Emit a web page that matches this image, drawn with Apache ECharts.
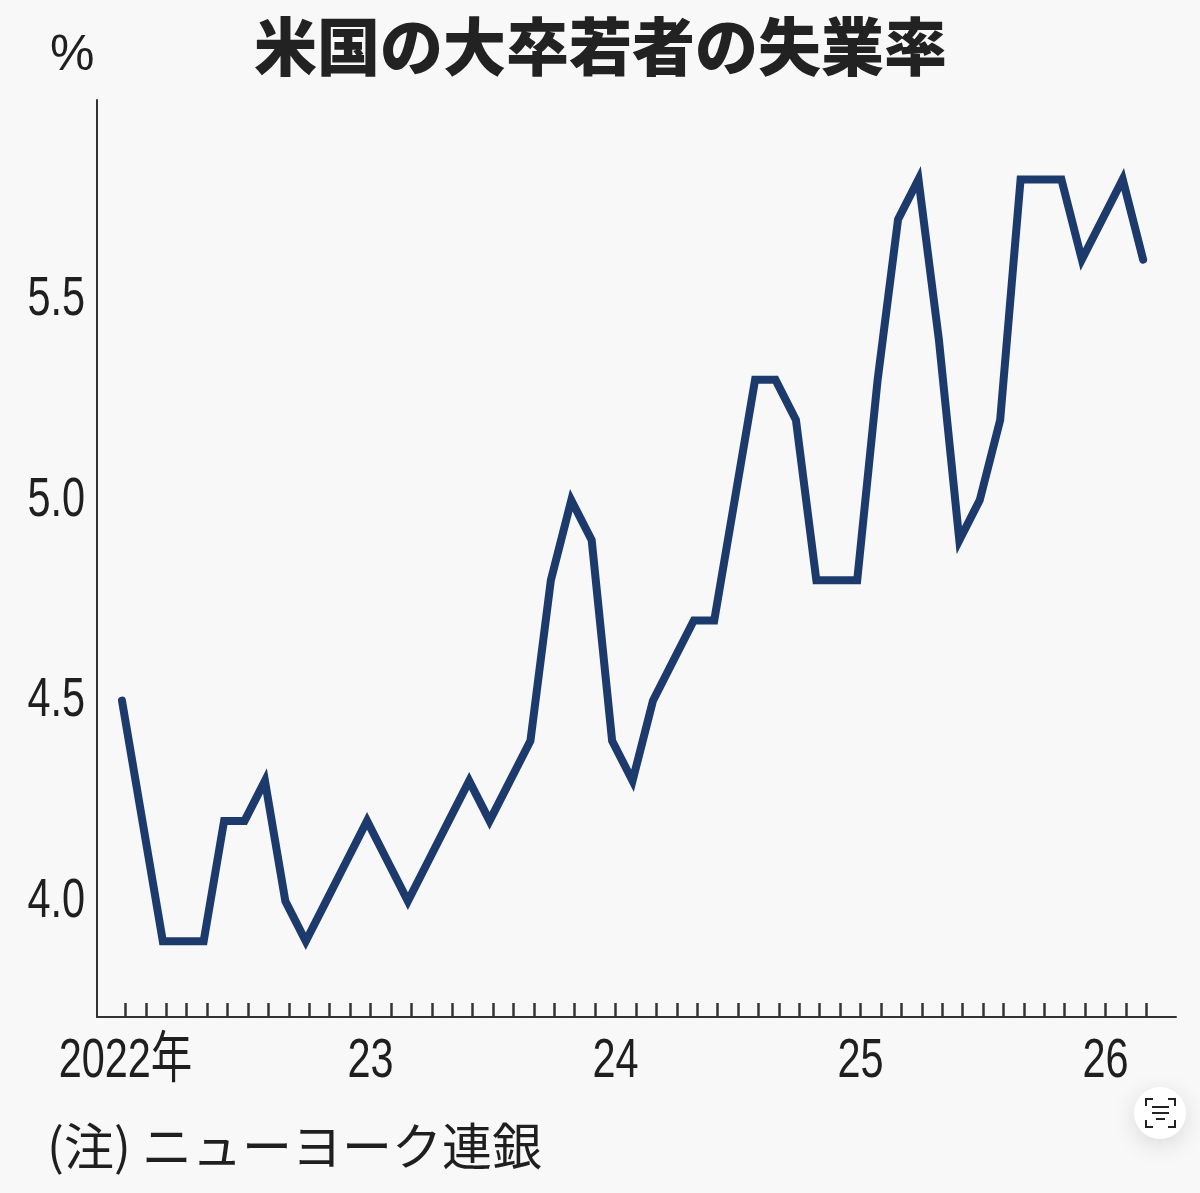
<!DOCTYPE html>
<html><head><meta charset="utf-8">
<style>html,body{margin:0;padding:0;background:#f8f8f8}#c{width:1200px;height:1193px}</style>
<script src="https://cdn.jsdelivr.net/npm/echarts@6/dist/echarts.min.js"></script>
</head><body><div id="c"></div>
<script>
const titleText = '米国の大卒若者の失業率';
const unitText = '%';
const noteText = '(注) ニューヨーク連銀';
const yTicks = [4.0, 4.5, 5.0, 5.5];
const yearTicks = {0:'2022年', 12:'23', 24:'24', 36:'25', 48:'26'};
const rates = [4.5,4.2,3.9,3.9,3.9,4.2,4.2,4.3,4.0,3.9,4.0,4.1,
 4.2,4.1,4.0,4.1,4.2,4.3,4.2,4.3,4.4,4.8,5.0,4.9,
 4.4,4.3,4.5,4.6,4.7,4.7,5.0,5.3,5.3,5.2,4.8,4.8,
 4.8,5.3,5.7,5.8,5.4,4.9,5.0,5.2,5.8,5.8,5.8,5.6,
 5.7,5.8,5.6];
const monthIdx = rates.map((_, i) => i);
const NARROW = '"Liberation Sans","Noto Sans CJK JP",sans-serif';
const INK = '#1f1f1f';
const corner = pts => ({type:'polyline', shape:{points:pts}, style:{fill:'none', stroke:'#222', lineWidth:2}});
const chart = echarts.init(document.getElementById('c'), null, {renderer:'canvas'});
chart.setOption({
  animation:false,
  backgroundColor:'#f8f8f8',
  grid:{left:97, right:24, top:100, bottom:176},
  title:{text:titleText, left:254, top:15, padding:0,
    textStyle:{fontFamily:'"Noto Sans CJK JP"', fontWeight:900, fontSize:63, color:'#222'}},
  xAxis:[
    {type:'value', min:-1.395, max:51.45, splitLine:{show:false},
      axisLine:{show:true, onZero:false, lineStyle:{color:'#333', width:2}},
      axisTick:{show:true, inside:true, length:14, customValues:monthIdx, lineStyle:{color:'#333', width:2.5}},
      axisLabel:{show:true, customValues:Object.keys(yearTicks).map(Number), margin:17,
        formatter:v=>yearTicks[v]||'', fontFamily:NARROW, fontSize:56, color:INK,
        hideOverlap:false, showMinLabel:true, showMaxLabel:true}},
    {type:'value', min:-1.223, max:51.61, show:false}
  ],
  yAxis:{type:'value', min:3.711, max:5.998, splitLine:{show:false},
    axisLine:{show:true, onZero:false, lineStyle:{color:'#333', width:2}},
    axisTick:{show:false},
    axisLabel:{customValues:yTicks, margin:12, formatter:v=>v.toFixed(1),
      fontFamily:NARROW, fontSize:56, color:INK}},
  series:[{type:'line', xAxisIndex:1, data:rates.map((v,i)=>[monthIdx[i],v]), showSymbol:false, symbol:'none',
    lineStyle:{color:'#1c3a6c', width:8, join:'miter', cap:'round'}, silent:true}],
  graphic:[
    {type:'text', left:50, top:31, style:{text:unitText, fontFamily:NARROW, fontSize:50, fill:INK}},
    {type:'text', x:47, y:1146, style:{text:noteText, fontFamily:'"Noto Sans CJK JP"', fontSize:50, fill:INK, verticalAlign:'middle'}},
    {type:'circle', shape:{cx:1160, cy:1113, r:26}, style:{fill:'#fff', shadowBlur:24, shadowColor:'rgba(0,0,0,0.12)', shadowOffsetY:6}},
    corner([[1146,1106],[1146,1099],[1153,1099]]),
    corner([[1168,1099],[1175,1099],[1175,1106]]),
    corner([[1146,1120],[1146,1127],[1153,1127]]),
    corner([[1168,1127],[1175,1127],[1175,1120]]),
    {type:'line', shape:{x1:1152, y1:1107, x2:1169, y2:1107}, style:{stroke:'#222', lineWidth:2}},
    {type:'line', shape:{x1:1152, y1:1113, x2:1169, y2:1113}, style:{stroke:'#222', lineWidth:2}},
    {type:'line', shape:{x1:1156, y1:1119, x2:1165, y2:1119}, style:{stroke:'#222', lineWidth:2}}
  ]
});
// The reference uses a condensed numeral face: squeeze the axis labels horizontally about their anchors.
const labelTexts = new Set([...Object.values(yearTicks), ...yTicks.map(v=>v.toFixed(1))]);
const zr = chart.getZr();
const seen = new Set();
zr.storage.getDisplayList(true).forEach(el => {
  const t = el.parent && el.parent.style && el.parent.style.text;
  const txt = (el.style && el.style.text);
  const host = el.parent && labelTexts.has(String(t)) ? el.parent : (labelTexts.has(String(txt)) ? el : null);
  if (host && !seen.has(host)) { seen.add(host); host.scaleX = 0.74; host.markRedraw && host.markRedraw(); }
});
zr.refreshImmediately();
</script></body></html>
